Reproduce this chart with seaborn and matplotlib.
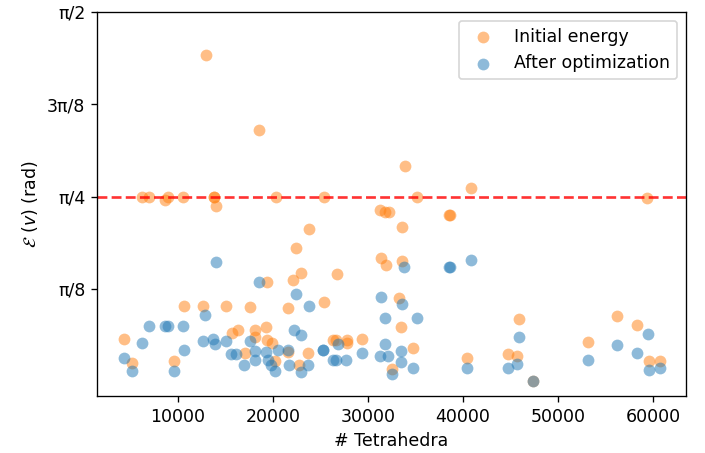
import numpy as np
import pandas as pd
import matplotlib
matplotlib.use("Agg")
import matplotlib.pyplot as plt
import seaborn as sns

# Data (y values in units of pi/8)
init_x = [4390, 5200, 6250, 7020, 8600, 9020, 9580, 10530, 10700, 12700, 12916, 13760, 13850,
          13970, 15090, 15730, 16320, 17020, 17550, 18150, 18150, 18495, 19230, 19410, 19410,
          19940, 20250, 20360, 21580, 21580, 22110, 22390, 22740, 22920, 23680, 23790, 25370,
          25370, 26320, 26670, 26780, 27790, 27790, 29410, 31230, 31410, 31750, 31860, 32200,
          32570, 33260, 33440, 33620, 33620, 33860, 34740, 35160, 38530, 38600, 40460, 40880,
          44740, 45680, 45890, 47370, 53090, 56210, 58250, 59300, 59580, 60700]
init_u = [0.46, 0.20, 2.0, 2.0, 1.96, 2.0, 0.215, 2.0, 0.81, 0.82, 3.53, 2.0, 2.0,
          1.90, 0.82, 0.52, 0.56, 0.31, 0.80, 0.56, 0.48, 2.72, 0.59, 1.07, 0.45,
          0.41, 0.215, 2.0, 0.315, 0.79, 1.10, 1.44, 0.18, 1.17, 0.31, 1.65, 2.0,
          0.86, 0.45, 0.45, 1.16, 0.45, 0.41, 0.46, 1.85, 1.34, 1.83, 1.26, 1.83,
          0.13, 0.90, 0.59, 1.67, 1.30, 2.33, 0.36, 2.0, 1.80, 1.80, 0.25, 2.09,
          0.29, 0.27, 0.67, 0.0, 0.42, 0.71, 0.61, 1.98, 0.215, 0.215]

opt_x = [4390, 5200, 6250, 6950, 8600, 9020, 9580, 10530, 10700, 12700, 12880, 13680, 13860,
         13970, 15090, 15620, 16150, 16950, 17550, 18150, 18150, 18490, 19300, 19470, 19830,
         20180, 20530, 21580, 21650, 22180, 22390, 22920, 22920, 23680, 23790, 25260, 25300,
         26320, 26670, 26840, 27720, 29410, 31230, 31410, 31830, 31830, 32100, 32570, 33440,
         33440, 33620, 33790, 34740, 35160, 38530, 38600, 40460, 40880, 44740, 45680, 45890,
         47370, 53090, 56210, 58250, 59410, 59580, 60700]
opt_u = [0.25, 0.11, 0.415, 0.595, 0.595, 0.595, 0.11, 0.595, 0.34, 0.44, 0.72, 0.46, 0.405,
         1.29, 0.44, 0.29, 0.30, 0.18, 0.44, 0.33, 0.23, 1.07, 0.315, 0.23, 0.18,
         0.11, 0.34, 0.34, 0.18, 0.56, 0.95, 0.50, 0.10, 0.18, 0.82, 0.34, 0.34,
         0.23, 0.23, 0.405, 0.23, 0.31, 0.27, 0.91, 0.69, 0.405, 0.27, 0.08, 0.33,
         0.21, 0.84, 1.24, 0.14, 0.69, 1.24, 1.24, 0.14, 1.31, 0.14, 0.19, 0.48,
         0.0, 0.23, 0.39, 0.31, 0.51, 0.12, 0.14]

ytick_vals = [np.pi / 8, np.pi / 4, 3 * np.pi / 8, np.pi / 2]
ytick_labels = ["π/8", "π/4", "3π/8", "π/2"]

df_init = pd.DataFrame({"x": init_x, "y": np.array(init_u) * np.pi / 8})
df_opt = pd.DataFrame({"x": opt_x, "y": np.array(opt_u) * np.pi / 8})

plt.rcParams["font.size"] = 10.4

DPI = 120
fig = plt.figure(figsize=(705 / DPI, 453 / DPI), dpi=DPI)
ax = fig.add_axes([97 / 705, 57 / 453, (686 - 97) / 705, (396 - 12) / 453])

sns.scatterplot(data=df_init, x="x", y="y", ax=ax, color="C1", alpha=0.5, s=50,
                linewidth=0, label="Initial energy")
sns.scatterplot(data=df_opt, x="x", y="y", ax=ax, color="C0", alpha=0.5, s=50,
                linewidth=0, label="After optimization")
ax.axhline(np.pi / 4, color="red", linestyle="--", linewidth=1.6, alpha=0.8)

ax.set_yticks(ytick_vals)
ax.set_yticklabels(ytick_labels)
ax.set_ylim(-0.063, np.pi / 2)
ax.set_xlim(1500, 63450)
ax.set_xlabel("# Tetrahedra")
ax.set_ylabel(r"$\mathcal{E}\ (v)$ (rad)")
ax.legend(loc="upper right")

fig.savefig("out.png", dpi=DPI)
